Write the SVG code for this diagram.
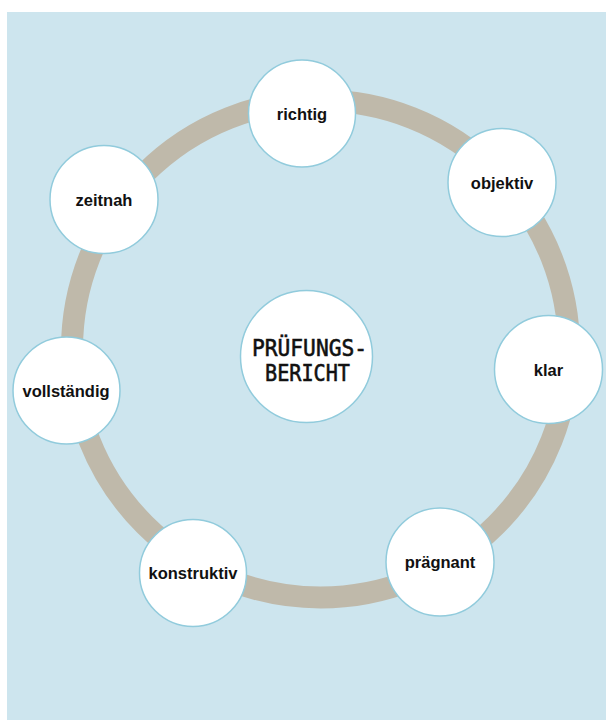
<svg xmlns="http://www.w3.org/2000/svg" width="606" height="720" viewBox="0 0 606 720">
<style>
.node{fill:#ffffff;stroke:#91cbdc;stroke-width:1.5}
.lbl{font-family:"Liberation Sans",Arial,sans-serif;font-weight:bold;font-size:16.5px;fill:#111111;text-anchor:middle}
.ctr{font-family:"DejaVu Sans Mono",monospace;font-size:23px;fill:#111111;stroke:#111111;stroke-width:0.6;text-anchor:middle}
</style>
<rect x="0" y="0" width="606" height="720" fill="#ffffff"/>
<rect x="7" y="12" width="599" height="708" fill="#cde5ee"/>
<g id="connectors">
<circle cx="320.5" cy="349" r="248.5" fill="none" stroke="#bfb9aa" stroke-width="22"/>
</g>
<g id="center">
<circle class="node" cx="306.5" cy="356.5" r="66"/>
<text class="ctr" x="309.5" y="356" textLength="115" lengthAdjust="spacingAndGlyphs">PRÜFUNGS-</text>
<text class="ctr" x="307.5" y="381" textLength="85" lengthAdjust="spacingAndGlyphs">BERICHT</text>
</g>
<g id="richtig">
<circle class="node" cx="302" cy="113.5" r="53.5"/>
<text class="lbl" x="302" y="119.5">richtig</text>
</g>
<g id="objektiv">
<circle class="node" cx="502" cy="182.5" r="54"/>
<text class="lbl" x="502" y="188.5">objektiv</text>
</g>
<g id="klar">
<circle class="node" cx="548.5" cy="369.5" r="54"/>
<text class="lbl" x="548.5" y="375.5">klar</text>
</g>
<g id="praegnant">
<circle class="node" cx="440" cy="562" r="54"/>
<text class="lbl" x="440" y="568">prägnant</text>
</g>
<g id="konstruktiv">
<circle class="node" cx="193" cy="573" r="53.5"/>
<text class="lbl" x="193" y="579">konstruktiv</text>
</g>
<g id="vollstaendig">
<circle class="node" cx="66.5" cy="390.5" r="53.5"/>
<text class="lbl" x="66" y="396.5">vollständig</text>
</g>
<g id="zeitnah">
<circle class="node" cx="104" cy="199.5" r="54"/>
<text class="lbl" x="104" y="205.5">zeitnah</text>
</g>
</svg>
